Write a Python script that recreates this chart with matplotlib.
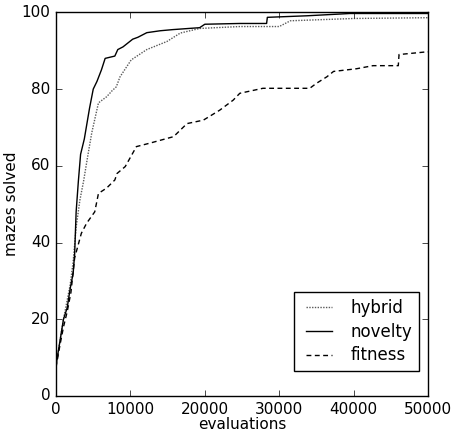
import matplotlib
matplotlib.use('Agg')
import matplotlib.pyplot as plt

plt.style.use('classic')

# values
novelty_x = [0, 500, 1000, 1500, 1900, 2300, 2500, 2700, 3000, 3300, 3800, 4500, 5000,
             5500, 6100, 6600, 7900, 8300, 9000, 10300, 11000, 12200, 14000, 15700,
             19300, 20000, 24700, 28300, 28400, 33700, 39500, 50000]
novelty_y = [8, 14, 20, 23, 28, 32, 37, 48, 56, 63, 67, 75, 80,
             82, 85, 88, 88.6, 90.3, 91, 93, 93.5, 94.7, 95.2, 95.5,
             96, 96.9, 97.1, 97.1, 98.7, 99.1, 99.7, 99.7]

hybrid_x = [0, 500, 1000, 1500, 1900, 2300, 2700, 3200, 3700, 4300, 4800, 5700, 6800,
            7500, 8100, 8600, 10100, 12200, 14900, 16700, 19300, 24700, 30000, 31500,
            40000, 50000]
hybrid_y = [8, 14, 20, 25, 29, 35, 44, 51, 56, 63, 68.6, 76.4, 78,
            79.5, 80.6, 83.2, 87.6, 90.3, 92.4, 94.6, 95.8, 96.3, 96.3, 97.8,
            98.4, 98.6]

fitness_x = [0, 500, 1000, 1500, 2000, 2500, 3400, 4100, 5200, 5700, 6800, 7900, 8200,
             9300, 10800, 12600, 15800, 17600, 19800, 22000, 23800, 24700, 27800, 34100,
             35000, 36400, 37300, 40400, 42600, 46000, 46100, 49800, 50000]
fitness_y = [7.5, 13, 18, 22, 27, 36, 42.4, 45, 48, 52.8, 54.2, 56.3, 58,
             59.8, 65, 65.9, 67.6, 71, 71.9, 74.5, 77.1, 78.9, 80.2, 80.2,
             81.5, 83.2, 84.6, 85.3, 86.1, 86.1, 89, 89.7, 89.7]

fig = plt.figure(figsize=(4.52, 4.33), dpi=100, facecolor='white')
ax = fig.add_axes([0.124, 0.0855, 0.823, 0.886])

ax.plot(hybrid_x, hybrid_y, color='0.35', linestyle=(0, (1, 1)), label='hybrid')
ax.plot(novelty_x, novelty_y, 'k-', label='novelty')
ax.plot(fitness_x, fitness_y, 'k', linestyle=(0, (3.5, 2.5)), label='fitness')

ax.set_xlim(0, 50000)
ax.set_ylim(0, 100)
ax.set_xticks([0, 10000, 20000, 30000, 40000, 50000])
ax.set_yticks([0, 20, 40, 60, 80, 100])
ax.tick_params(labelsize=11)
ax.set_xlabel('evaluations', fontsize=11, labelpad=0)
ax.set_ylabel('mazes solved', fontsize=11, labelpad=2)
ax.legend(loc='lower right', fontsize=12, handlelength=2.2, borderaxespad=0,
          bbox_to_anchor=(0.976, 0.065), labelspacing=0.35)

fig.savefig('out.png', dpi=100, facecolor='white')
